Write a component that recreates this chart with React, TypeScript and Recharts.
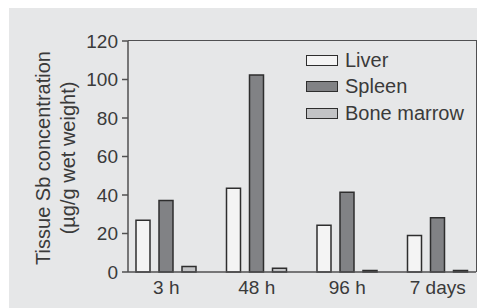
import { BarChart, Bar, XAxis, YAxis } from "recharts";

const categories = ["3 h", "48 h", "96 h", "7 days"];
const liver = [26.9, 43.5, 24.3, 18.9];
const spleen = [37.2, 102.3, 41.4, 28.2];
const boneMarrow = [2.8, 1.9, 0.8, 0.8];
const yTicks = [0, 20, 40, 60, 80, 100, 120];

const data = categories.map((time, i) => ({
  time,
  liver: liver[i],
  spleen: spleen[i],
  boneMarrow: boneMarrow[i],
}));

const FONT = "'Liberation Sans', Arial, sans-serif";
const TEXT = "#3a3a3a";
const AXIS = "#505052";
const EDGE = "#2e2e2e";

const SERIES = [
  { key: "liver", name: "Liver", fill: "#f4f4f4" },
  { key: "spleen", name: "Spleen", fill: "#818285" },
  { key: "boneMarrow", name: "Bone marrow", fill: "#c2c3c5" },
];

function YLabel() {
  return (
    <g fill={TEXT} fontSize={20} fontFamily={FONT}>
      <text x={34} y={150} transform="rotate(-90 34 150)" textAnchor="middle" dominantBaseline="central">
        Tissue Sb concentration
      </text>
      <text x={59} y={150} transform="rotate(-90 59 150)" textAnchor="middle" dominantBaseline="central">
        (µg/g wet weight)
      </text>
    </g>
  );
}

function LegendBox() {
  return (
    <div
      style={{
        position: "absolute",
        left: 297,
        top: 39,
        fontFamily: FONT,
        fontSize: 20,
        color: TEXT,
      }}
    >
      {SERIES.map((s) => (
        <div key={s.key} style={{ display: "flex", alignItems: "center", height: 26.5 }}>
          <div
            style={{
              width: 30,
              height: 9,
              background: s.fill,
              border: `1.5px solid ${EDGE}`,
              marginRight: 7,
            }}
          />
          <span>{s.name}</span>
        </div>
      ))}
    </div>
  );
}

export default function App() {
  return (
    <div style={{ position: "relative", width: 477, height: 300, background: "#e6e7e8", marginLeft: 1 }}>
      <BarChart
        width={477}
        height={300}
        data={data}
        margin={{ top: 33, right: 10, left: 0, bottom: 0 }}
        barSize={14}
        barGap={9}
      >
        <XAxis
          dataKey="time"
          padding={{ left: -7, right: -7 }}
          height={36}
          tickLine={false}
          tickSize={0}
          tickMargin={9}
          axisLine={{ stroke: AXIS, strokeWidth: 1.5 }}
          tick={{ fill: TEXT, fontSize: 19, fontFamily: FONT }}
        />
        <YAxis
          domain={[0, 120]}
          ticks={yTicks}
          width={119}
          tickSize={6}
          tickMargin={4}
          interval={0}
          axisLine={{ stroke: AXIS, strokeWidth: 1.5 }}
          tickLine={{ stroke: AXIS, strokeWidth: 1.5 }}
          tick={{ fill: TEXT, fontSize: 19, fontFamily: FONT }}
          label={<YLabel />}
        />
        {SERIES.map((s) => (
          <Bar
            key={s.key}
            dataKey={s.key}
            name={s.name}
            fill={s.fill}
            stroke={EDGE}
            strokeWidth={1.5}
            isAnimationActive={false}
          />
        ))}
      </BarChart>
      {/* top and right frame lines of the plot box */}
      <div
        style={{
          position: "absolute",
          left: 119,
          top: 32.25,
          width: 348,
          height: 231,
          borderTop: `1.5px solid ${AXIS}`,
          borderRight: `1.5px solid ${AXIS}`,
          pointerEvents: "none",
        }}
      />
      <LegendBox />
    </div>
  );
}
